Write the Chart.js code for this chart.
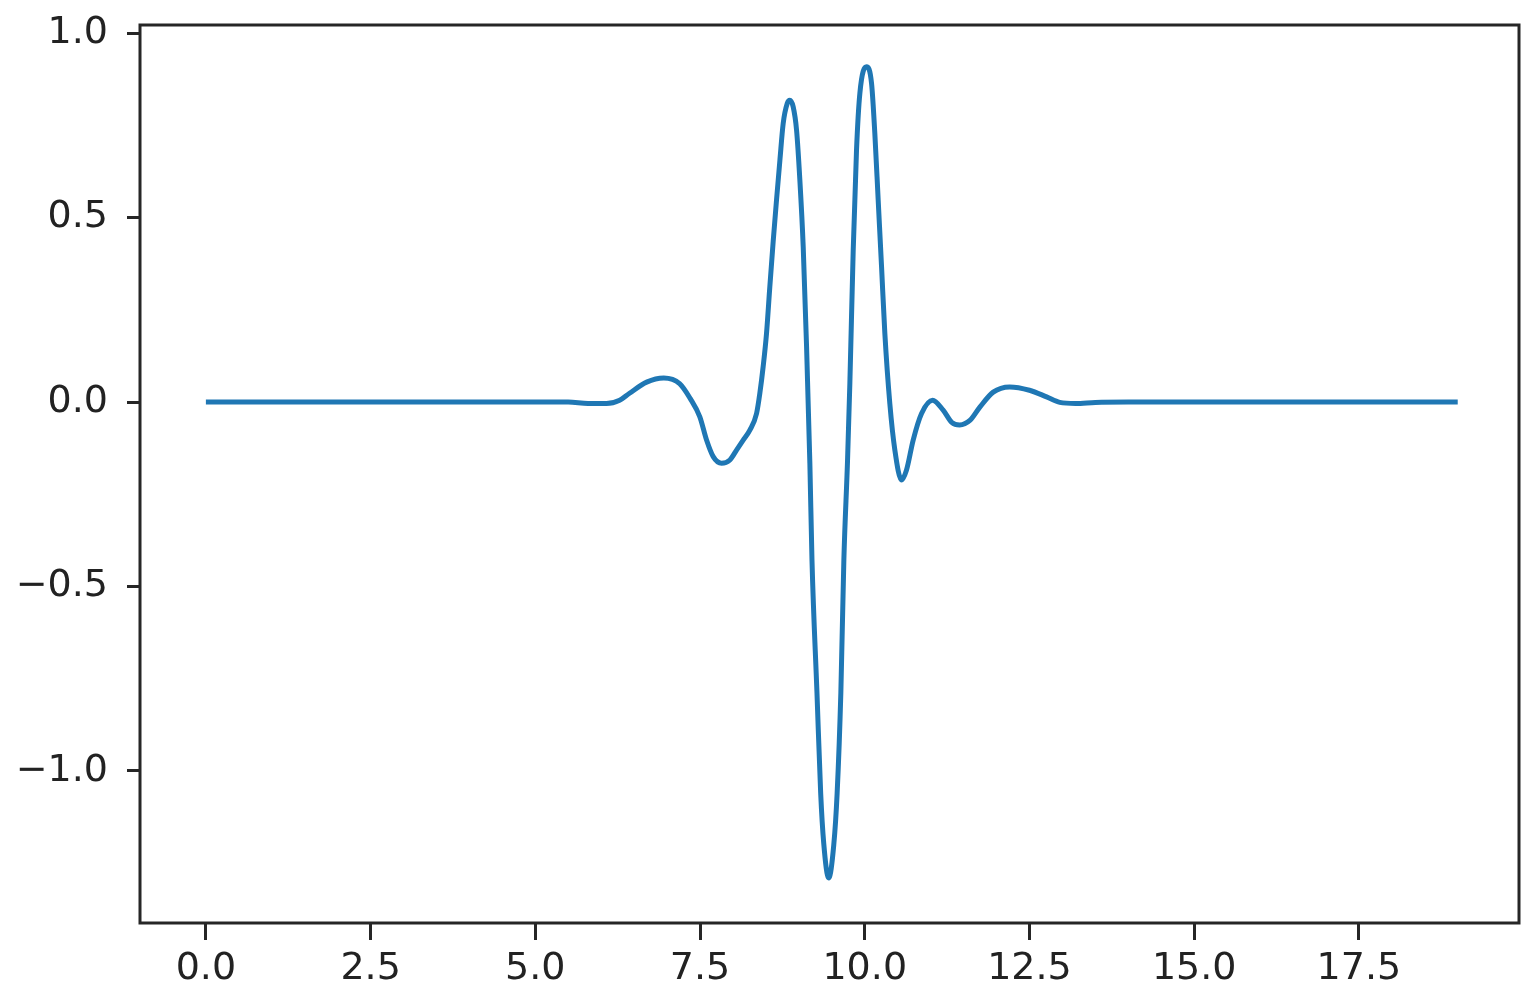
<!DOCTYPE html>
<html>
<head>
<meta charset="utf-8">
<script src="https://cdn.jsdelivr.net/npm/chart.js@4/dist/chart.umd.min.js"></script>
<style>
    html, body { margin: 0; padding: 0; background: #fff; }
    #wrap { width: 1540px; height: 1001px; }
</style>
</head>
<body>
<div id="wrap"><canvas id="grafico"></canvas></div>
<script>
// valores
const xValues = [
    0, 1, 2, 3, 4, 5, 5.5, 5.8, 6.08, 6.28, 6.43, 6.69, 6.95, 7.19, 7.35, 7.497, 7.599, 7.7, 7.826,
    7.953, 8.054, 8.155, 8.256, 8.358, 8.408, 8.458, 8.509, 8.559, 8.61, 8.661, 8.712, 8.762,
    8.823, 8.863, 8.914, 8.965, 9.015, 9.066, 9.117, 9.167,
    9.199, 9.275, 9.331, 9.377, 9.453, 9.53, 9.581, 9.637, 9.683, 9.739, 9.774, 9.825, 9.875,
    9.926, 10.027, 10.103, 10.153, 10.204, 10.255, 10.305, 10.381, 10.457, 10.558, 10.634,
    10.735, 10.862, 11.03, 11.19, 11.32, 11.44, 11.6, 11.75, 11.95, 12.2, 12.5,
    12.76, 12.96, 13.2, 13.5, 14, 15, 16, 17, 18, 19
];
const yValues = [
    0, 0, 0, 0, 0, 0, 0, -0.004, -0.004, 0.005, 0.024, 0.054, 0.065, 0.05, 0.01, -0.04, -0.103, -0.148, -0.166,
    -0.157, -0.13, -0.103, -0.076, -0.031, 0.024, 0.096, 0.186, 0.312, 0.435, 0.548, 0.655, 0.755,
    0.809, 0.818, 0.8, 0.737, 0.602, 0.421, 0.15, -0.166,
    -0.428, -0.789, -1.06, -1.195, -1.29, -1.2, -1.06, -0.789, -0.428, -0.157, 0.051, 0.412, 0.683,
    0.837, 0.909, 0.864, 0.728, 0.547, 0.367, 0.186, -0.005, -0.13, -0.211, -0.184,
    -0.103, -0.031, 0.005, -0.022, -0.055, -0.062, -0.049, -0.013, 0.027, 0.041, 0.032,
    0.014, -0.001, -0.004, -0.001, 0, 0, 0, 0, 0, 0
];
const xTicks = [0, 2.5, 5, 7.5, 10, 12.5, 15, 17.5];
const xTickLabels = ['0.0', '2.5', '5.0', '7.5', '10.0', '12.5', '15.0', '17.5'];
const yTicks = [-1, -0.5, 0, 0.5, 1];
const yTickLabels = ['\u22121.0', '\u22120.5', '0.0', '0.5', '1.0'];

const puntos = xValues.map((x, i) => ({ x: x, y: yValues[i] }));
const colorEje = '#262626';

// marco completo alrededor del area (estilo matplotlib)
const marco = {
    id: 'marco',
    afterDraw(chart) {
        const a = chart.chartArea;
        const ctx = chart.ctx;
        ctx.save();
        ctx.strokeStyle = colorEje;
        ctx.lineWidth = 3;
        ctx.strokeRect(a.left, a.top, a.right - a.left, a.bottom - a.top);
        ctx.restore();
    }
};

new Chart(document.getElementById('grafico').getContext('2d'), {
    type: 'line',
    data: {
        datasets: [{
            data: puntos,
            borderColor: '#1f77b4',
            borderWidth: 5,
            pointRadius: 0,
            fill: false,
            cubicInterpolationMode: 'monotone'
        }]
    },
    options: {
        responsive: true,
        maintainAspectRatio: false,
        animation: false,
        layout: { padding: { left: 0, right: 21, top: 25, bottom: 0 } },
        plugins: { legend: { display: false }, tooltip: { enabled: false } },
        scales: {
            x: {
                type: 'linear',
                min: -1.0,
                max: 19.93,
                afterFit(scale) {
                    scale.height = 78;
                    scale.paddingLeft = 0;
                    scale.paddingRight = 0;
                },
                afterBuildTicks(scale) { scale.ticks = xTicks.map(v => ({ value: v })); },
                grid: { drawOnChartArea: false, tickLength: 17, tickWidth: 3, tickColor: colorEje },
                border: { display: false },
                ticks: {
                    padding: 6,
                    color: '#222',
                    font: { family: 'DejaVu Sans', size: 38 },
                    callback: (v, i) => xTickLabels[i]
                }
            },
            y: {
                min: -1.412,
                max: 1.022,
                afterFit(scale) {
                    scale.width = 140;
                    scale.paddingTop = 0;
                    scale.paddingBottom = 0;
                },
                afterBuildTicks(scale) { scale.ticks = yTicks.map(v => ({ value: v })); },
                grid: { drawOnChartArea: false, tickLength: 13, tickWidth: 3, tickColor: colorEje },
                border: { display: false },
                ticks: {
                    padding: 19,
                    color: '#222',
                    font: { family: 'DejaVu Sans', size: 38 },
                    callback: (v, i) => yTickLabels[i]
                }
            }
        }
    },
    plugins: [marco]
});
</script>
</body>
</html>
